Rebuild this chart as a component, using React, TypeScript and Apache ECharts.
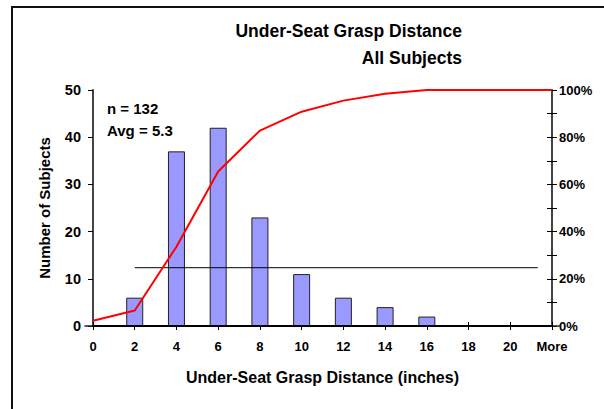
import React, { useEffect, useRef } from "react";
import * as echarts from "echarts";

const categories = ["0", "2", "4", "6", "8", "10", "12", "14", "16", "18", "20", "More"];
const counts = [0, 6, 37, 42, 23, 11, 6, 4, 2, 0, 0, 0];
const cumulativePct = [2.2, 6.6, 33.6, 65.5, 82.8, 90.8, 95.5, 98.4, 100, 100, 100, 100];
const refLineY = 12.35;
const refLineX = [1, 10.66];
const titleLines = ["Under-Seat Grasp Distance", "All Subjects"];
const noteLines = ["n = 132", "Avg = 5.3"];

const FONT = "'Liberation Sans', Arial, Helvetica, sans-serif";

export default function App() {
  const ref = useRef<HTMLDivElement>(null);
  useEffect(() => {
    if (!ref.current) return;
    const chart = echarts.init(ref.current, undefined, { renderer: "svg" });
    const tickLabel = { fontFamily: FONT, fontWeight: "bold" as const, fontSize: 13, color: "#000" };
    const option: any = {
      animation: false,
      backgroundColor: "#fff",
      textStyle: { fontFamily: FONT },
      grid: { left: 93, right: 52, top: 90, bottom: 83 },
      graphic: [
        {
          type: "rect",
          shape: { x: 12, y: 7, width: 640, height: 500 },
          style: { fill: "none", stroke: "#111", lineWidth: 2 },
          silent: true,
        },
        {
          type: "text",
          x: 462,
          y: 31,
          style: {
            text: titleLines[0],
            align: "right",
            verticalAlign: "middle",
            font: `bold 17.5px ${FONT}`,
            fill: "#000",
          },
        },
        {
          type: "text",
          x: 462,
          y: 58,
          style: {
            text: titleLines[1],
            align: "right",
            verticalAlign: "middle",
            font: `bold 17.5px ${FONT}`,
            fill: "#000",
          },
        },
        {
          type: "text",
          x: 107,
          y: 108,
          style: { text: noteLines[0], verticalAlign: "middle", font: `bold 15px ${FONT}`, fill: "#000" },
        },
        {
          type: "text",
          x: 107,
          y: 130,
          style: { text: noteLines[1], verticalAlign: "middle", font: `bold 15px ${FONT}`, fill: "#000" },
        },
      ],
      xAxis: [
        {
          type: "category",
          data: categories,
          boundaryGap: false,
          position: "bottom",
          axisLine: { lineStyle: { color: "#000", width: 2 } },
          axisTick: { show: true, inside: false, length: 4, alignWithLabel: true, lineStyle: { color: "#000" } },
          axisLabel: { ...tickLabel, margin: 14, interval: 0 },
          splitLine: { show: false },
          name: "Under-Seat Grasp Distance (inches)",
          nameLocation: "middle",
          nameGap: 43,
          nameTextStyle: { fontFamily: FONT, fontWeight: "bold", fontSize: 16, color: "#000" },
          z: 5,
        },
        {
          type: "category",
          data: categories,
          boundaryGap: false,
          position: "bottom",
          axisLine: { show: false },
          axisTick: { show: true, inside: true, length: 4, lineStyle: { color: "#000" } },
          axisLabel: { show: false },
          splitLine: { show: false },
        },
        {
          type: "category",
          data: categories,
          boundaryGap: false,
          position: "top",
          axisLine: { show: true, lineStyle: { color: "#888", width: 1 } },
          axisTick: { show: false },
          axisLabel: { show: false },
          splitLine: { show: false },
        },
        {
          type: "value",
          min: 0,
          max: categories.length - 1,
          show: false,
        },
      ],
      yAxis: [
        {
          type: "value",
          min: 0,
          max: 50,
          interval: 10,
          position: "left",
          axisLine: { show: true, lineStyle: { color: "#444", width: 2 } },
          axisTick: { show: true, inside: false, length: 5, lineStyle: { color: "#000" } },
          axisLabel: { ...tickLabel, fontSize: 14.5, margin: 12 },
          splitLine: { show: false },
          name: "Number of Subjects",
          nameLocation: "middle",
          nameGap: 41,
          nameTextStyle: { fontFamily: FONT, fontWeight: "bold", fontSize: 15, color: "#000" },
        },
        {
          type: "value",
          min: 0,
          max: 100,
          interval: 10,
          position: "right",
          axisLine: { show: true, lineStyle: { color: "#444", width: 2 } },
          axisTick: { show: true, inside: false, length: 5, lineStyle: { color: "#000" } },
          axisLabel: {
            ...tickLabel,
            margin: 7,
            formatter: (v: number) => (Math.round(v) % 20 === 0 ? `${Math.round(v)}%` : ""),
          },
          splitLine: { show: false },
        },
        {
          type: "value",
          min: 0,
          max: 100,
          interval: 10,
          position: "right",
          axisLine: { show: false },
          axisTick: { show: true, inside: true, length: 5, lineStyle: { color: "#000" } },
          axisLabel: { show: false },
          splitLine: { show: false },
        },
      ],
      series: [
        {
          type: "bar",
          xAxisIndex: 0,
          yAxisIndex: 0,
          data: counts,
          barWidth: 17,
          itemStyle: { color: "#9999ff", borderColor: "#222", borderWidth: 1 },
          z: 2,
        },
        {
          type: "line",
          xAxisIndex: 3,
          yAxisIndex: 0,
          data: [
            [refLineX[0], refLineY],
            [refLineX[1], refLineY],
          ],
          symbol: "none",
          lineStyle: { color: "#000", width: 1 },
          z: 3,
        },
        {
          type: "line",
          xAxisIndex: 0,
          yAxisIndex: 1,
          data: cumulativePct,
          symbol: "none",
          lineStyle: { color: "#ff0000", width: 2 },
          z: 4,
        },
      ],
    };
    chart.setOption(option);
    return () => chart.dispose();
  }, []);
  return <div ref={ref} style={{ width: 604, height: 409, position: "absolute", left: 0, top: 0 }} />;
}
